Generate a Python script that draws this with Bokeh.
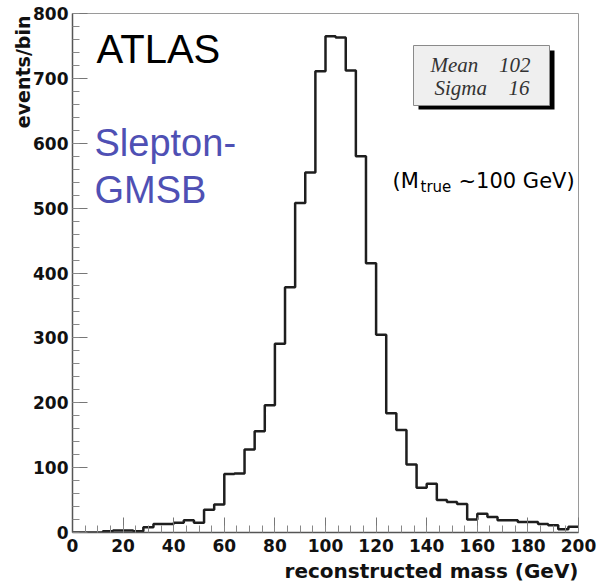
import numpy as np
from bokeh.plotting import figure
from bokeh.models import Range1d, SingleIntervalTicker, Label, BoxAnnotation, Title
from bokeh.embed import file_html
from bokeh.resources import INLINE

# ---- data ----
bin_low = list(range(0, 200, 4))          # 4 GeV bins, 0..200 GeV
counts = [0, 0, 0, 2, 3, 3, 2, 8, 13, 13,
          15, 19, 15, 35, 43, 90, 91, 128, 156, 196,
          291, 378, 508, 555, 711, 765, 763, 712, 580, 415,
          305, 184, 158, 105, 69, 75, 50, 47, 44, 20,
          29, 24, 19, 19, 16, 16, 13, 11, 5, 9]
x_ticks_interval = 20
y_ticks_interval = 100
stat_names = ["Mean", "Sigma"]
stat_values = ["102", "16"]

# ---- layout helpers (canvas px -> data) ----
W, H = 598, 588
FL, FR, FT, FB = 72, 578, 13, 532
def dx(px):
    return (px - FL) * 200.0 / (FR - FL)
def dy(py):
    return (FB - py) * 800.0 / (FB - FT)

p = figure(width=W, height=H,
           x_range=Range1d(0, 200), y_range=Range1d(0, 800),
           output_backend="svg", toolbar_location=None,
           min_border_left=FL, min_border_right=W - FR,
           min_border_top=FT, min_border_bottom=H - FB)
p.title.visible = False
p.grid.visible = False
p.outline_line_color = "#9a9a9a"
p.outline_line_width = 1
p.background_fill_color = "white"
p.border_fill_color = "white"

p.xaxis.ticker = SingleIntervalTicker(interval=x_ticks_interval, num_minor_ticks=4)
p.yaxis.ticker = SingleIntervalTicker(interval=y_ticks_interval, num_minor_ticks=5)
for ax in (p.xaxis[0], p.yaxis[0]):
    ax.major_tick_in = 15
    ax.major_tick_out = 0
    ax.minor_tick_in = 7
    ax.minor_tick_out = 0
    ax.major_tick_line_color = "#777777"
    ax.minor_tick_line_color = "#888888"
    ax.axis_line_color = "#555555"
    ax.axis_line_width = 1.5
    ax.major_label_text_font = "DejaVu Sans"
    ax.major_label_text_font_style = "bold"
    ax.major_label_text_font_size = "17px"
    ax.major_label_text_color = "#111111"
p.xaxis.major_label_standoff = 6
p.yaxis.major_label_standoff = 4

# histogram as step line
xs = bin_low + [200]
ys = counts + [counts[-1]]
p.step(xs, ys, mode="after", line_color="#1e1e1e", line_width=2.5)

# axis titles as side-panel titles
p.add_layout(Title(text="events/bin", align="right", offset=2, standoff=-6,
                   text_font="DejaVu Sans", text_font_style="bold",
                   text_font_size="19px", text_color="#111111"), "left")
p.add_layout(Title(text="reconstructed mass (GeV)", align="right", standoff=5,
                   text_font="DejaVu Sans", text_font_style="bold",
                   text_font_size="20px", text_color="#111111"), "below")

BASE_SHIFT = 0.37  # compensate the rendered baseline offset (em)

def lab(text, px, py, size, font="Liberation Sans", color="black",
        align="left", style="normal"):
    p.add_layout(Label(x=dx(px), y=dy(py - BASE_SHIFT * size), text=text,
                       text_align=align, text_baseline="alphabetic",
                       text_font=font, text_font_style=style,
                       text_font_size=f"{size}px", text_color=color))

# ATLAS / Slepton-GMSB
lab("ATLAS", 96, 63, 40)
lab("Slepton-", 94, 157, 38, color="#4f50b4")
lab("GMSB", 94, 204, 38, color="#4f50b4")

# stat box
p.add_layout(BoxAnnotation(left=dx(418), right=dx(554), top=dy(50), bottom=dy(109),
                           fill_color="black", fill_alpha=1, line_alpha=0))
p.add_layout(BoxAnnotation(left=dx(413), right=dx(549), top=dy(45), bottom=dy(105),
                           fill_color="#efefef", fill_alpha=1, line_color="#8a8a8a",
                           line_width=1, line_alpha=1))
name_x = [430, 434]
val_x = [530, 529]
row_y = [72, 95]
for n, v, nx, vx, ry in zip(stat_names, stat_values, name_x, val_x, row_y):
    lab(n, nx, ry, 21, font="Liberation Serif", color="#333333", style="italic")
    lab(v, vx, ry, 21, font="Liberation Serif", color="#333333", style="italic",
        align="right")

# (M_true ~100 GeV)
lab("(M", 392, 188, 21, font="DejaVu Sans")
lab("true", 420, 192, 15, font="DejaVu Sans")
lab("~100 GeV)", 458, 188, 21, font="DejaVu Sans")

open("out.html", "w").write(file_html(p, INLINE))
